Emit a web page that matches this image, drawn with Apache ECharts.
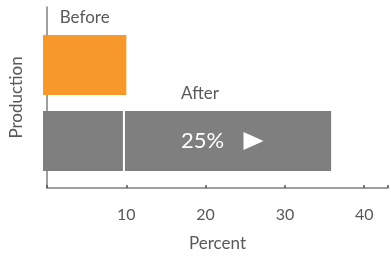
<!DOCTYPE html>
<html><head><meta charset="utf-8">
<script src="https://cdn.jsdelivr.net/npm/echarts@6/dist/echarts.min.js"></script>
<style>html,body{margin:0;padding:0;background:#fff}#c{width:391px;height:257px}</style>
</head><body><div id="c"></div>
<script>
const categories = ['After', 'Before'];
const totals = [35.6, 10.3];
const barColors = ['#7f7f80', '#f7982a'];
const dividerAt = 10;
const changeLabel = '25%';
const xTicks = [10, 20, 30, 40];

const FONT = 'Lato, "Open Sans", "DejaVu Sans", sans-serif';
const TXT = '#595959';
const AXIS = '#7f7f7f';

const chart = echarts.init(document.getElementById('c'));
chart.setOption({
  animation: false,
  grid: [
    {left: 43, right: 0, top: 7, bottom: 68},
    {left: 43, right: 0, top: 27, height: 152}
  ],
  xAxis: [
    {gridIndex: 0, type: 'value', min: 0, max: 43, interval: 10,
     name: 'Percent', nameLocation: 'middle', nameGap: 47,
     nameTextStyle: {color: TXT, fontSize: 17, fontFamily: FONT},
     axisLine: {show: true, lineStyle: {color: AXIS, width: 1.5}},
     axisTick: {show: true, inside: true, length: 3, lineStyle: {color: '#555', width: 1.5}},
     axisLabel: {color: TXT, fontSize: 16, fontFamily: FONT, margin: 19,
       formatter: v => xTicks.includes(v) ? String(v) : ''},
     splitLine: {show: false}},
    {gridIndex: 1, type: 'value', min: 0, max: 43, show: false}
  ],
  yAxis: [
    {gridIndex: 0, type: 'value', min: 0, max: 1,
     name: 'Production', nameLocation: 'middle', nameGap: 22, nameRotate: 90,
     nameTextStyle: {color: TXT, fontSize: 17, fontFamily: FONT},
     axisLine: {show: true, lineStyle: {color: AXIS, width: 1.5}},
     axisTick: {show: false}, axisLabel: {show: false}, splitLine: {show: false}},
    {gridIndex: 1, type: 'category', data: categories, show: false}
  ],
  series: [
    {type: 'bar', xAxisIndex: 1, yAxisIndex: 1, barWidth: 60,
     data: totals.map((v, i) => ({
       value: v,
       itemStyle: {color: barColors[i]},
       label: {show: true, position: 'top', distance: 9,
         offset: i === 0 ? [13, 0] : [0, 0],
         formatter: categories[i], color: TXT, fontSize: 17, fontFamily: FONT}
     }))},
    {type: 'custom', xAxisIndex: 1, yAxisIndex: 1, z: 10, clip: false,
     dimensions: ['start', 'end', 'cat'],
     encode: {x: ['start', 'end'], y: 'cat'},
     data: [[dividerAt, totals[0], categories[0]]],
     renderItem: function (params, api) {
       const p0 = api.coord([api.value(0), api.value(2)]);
       const p1 = api.coord([api.value(1), api.value(2)]);
       const cx = (p0[0] + p1[0]) / 2, cy = p0[1];
       return {type: 'group', children: [
         {type: 'line', shape: {x1: p0[0], y1: cy - 30, x2: p0[0], y2: cy + 30},
          style: {stroke: '#fff', lineWidth: 2}},
         {type: 'text', x: cx - 25, y: cy,
          style: {text: changeLabel, fill: '#fff', fontSize: 22, fontFamily: FONT,
                  align: 'center', verticalAlign: 'middle'}},
         {type: 'polygon', shape: {points: [[cx + 16, cy - 9], [cx + 36, cy], [cx + 16, cy + 9]]},
          style: {fill: '#fff'}}
       ]};
     }}
  ]
});
</script></body></html>
